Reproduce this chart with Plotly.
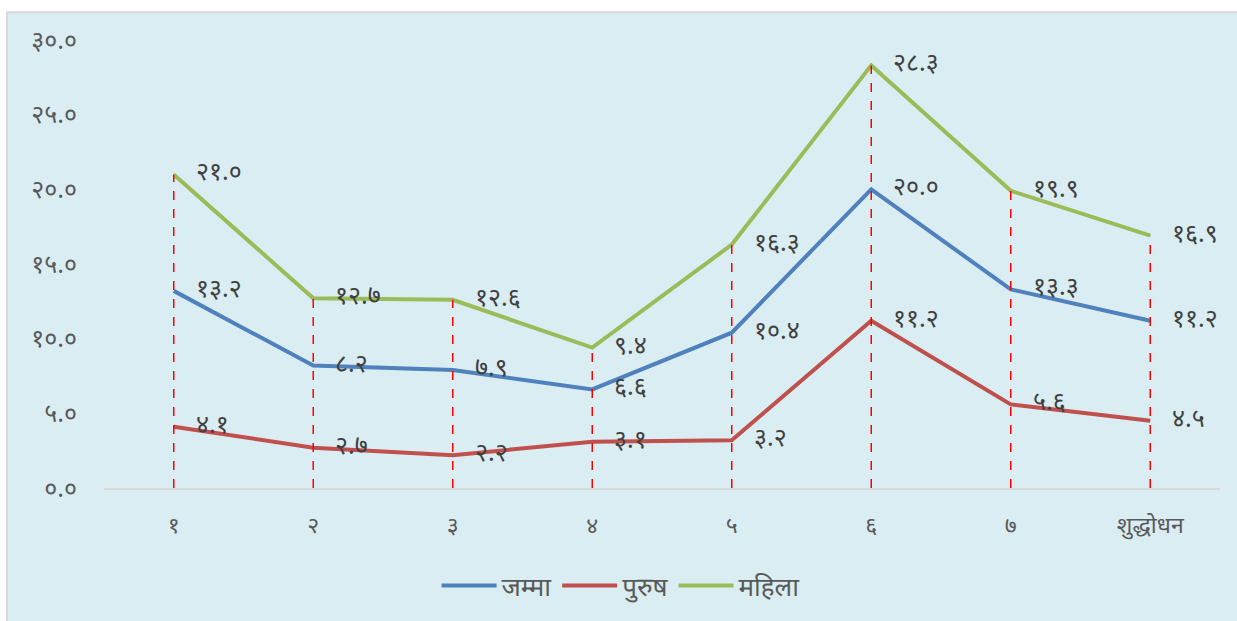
import plotly.graph_objects as go

# categories (x axis) and the three series
categories = ["१", "२", "३", "४", "५", "६", "७", "शुद्धोधन"]
jamma = [13.2, 8.2, 7.9, 6.6, 10.4, 20.0, 13.3, 11.2]
purush = [4.1, 2.7, 2.2, 3.1, 3.2, 11.2, 5.6, 4.5]
mahila = [21.0, 12.7, 12.6, 9.4, 16.3, 28.3, 19.9, 16.9]

y_ticks = [0, 5, 10, 15, 20, 25, 30]

DEV_DIGITS = str.maketrans("0123456789", "०१२३४५६७८९")


def to_nepali(v):
    # format with one decimal and swap in Devanagari digits
    return f"{v:.1f}".translate(DEV_DIGITS)


FONT = "Noto Sans Devanagari, Noto Sans, sans-serif"
BG = "#DAEDF3"
NUM_SIZE = 25

series = [
    ("जम्मा", jamma, "#4F81BD"),
    ("पुरुष", purush, "#C0504D"),
    ("महिला", mahila, "#9BBB59"),
]

fig = go.Figure()

for name, vals, color in series:
    fig.add_trace(go.Scatter(
        x=categories, y=vals, name=name, mode="lines",
        line=dict(color=color, width=4),
    ))

# value labels to the right of each point
for name, vals, color in series:
    for cat, v in zip(categories, vals):
        fig.add_annotation(
            x=cat, y=v, text=to_nepali(v), showarrow=False,
            xanchor="left", yanchor="middle", xshift=20,
            font=dict(family=FONT, size=NUM_SIZE, color="#404040"),
        )

# red dashed drop lines from the axis up to the top series
for cat, v in zip(categories, mahila):
    fig.add_shape(
        type="line", x0=cat, x1=cat, y0=0, y1=v, xref="x", yref="y",
        line=dict(color="#FF0000", width=1.5, dash="dash"), layer="above",
    )

# light blue panel with grey border (runs off the right and bottom edges)
fig.add_shape(
    type="rect", xref="paper", yref="paper",
    x0=-0.0869, x1=1.2, y0=-0.5, y1=1.062,
    fillcolor=BG, line=dict(color="#D9D9D9", width=2), layer="below",
)

fig.update_layout(
    width=1237, height=621,
    margin=dict(l=104, r=17, t=40, b=131),
    paper_bgcolor="white",
    plot_bgcolor="rgba(0,0,0,0)",
    font=dict(family=FONT, size=20, color="#595959"),
    showlegend=True,
    legend=dict(
        orientation="h", x=0.298, xanchor="left", y=-0.218, yanchor="middle",
        font=dict(family=FONT, size=26, color="#595959"),
        bgcolor="rgba(0,0,0,0)", itemwidth=55, tracegroupgap=0,
    ),
    xaxis=dict(
        type="category", range=[-0.5, 7.5],
        showgrid=False, showline=True, linecolor="#D9D9D9", linewidth=2,
        ticks="", tickfont=dict(size=23, color="#595959"),
        ticklabelstandoff=15, zeroline=False,
    ),
    yaxis=dict(
        range=[0, 30], tickvals=y_ticks,
        ticktext=[to_nepali(t) for t in y_ticks],
        showgrid=False, zeroline=False, showline=False, ticks="",
        tickfont=dict(size=NUM_SIZE, color="#595959"),
        ticklabelstandoff=26,
    ),
)

# drop the default page margin so the figure sits at the window corner
fig.write_html(
    "out.html",
    config={"displayModeBar": False},
    post_script="document.body.style.margin='0';document.body.style.overflow='hidden';",
)
